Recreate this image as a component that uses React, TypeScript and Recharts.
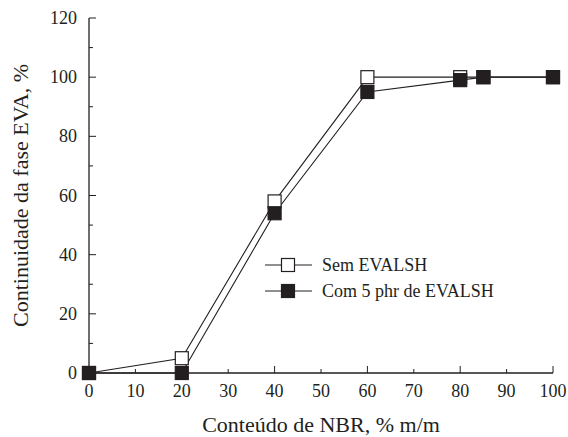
import { LineChart, Line, XAxis, YAxis } from "recharts";

const nbr = [0, 20, 40, 60, 80, 85, 100];
const semEvalsh = [0, 5, 58, 100, 100, 100, 100];
const com5phr = [0, 0, 54, 95, 99, 100, 100];
const xTicks = [0, 10, 20, 30, 40, 50, 60, 70, 80, 90, 100];
const yTicks = [0, 10, 20, 30, 40, 50, 60, 70, 80, 90, 100, 110, 120];
const seriesNames = ["Sem EVALSH", "Com 5 phr de EVALSH"];

const data = nbr.map((x, i) => ({ x, sem: semEvalsh[i], com: com5phr[i] }));

const FONT = "Liberation Serif, Times New Roman, DejaVu Serif, serif";
const INK = "#231f20";

function Square(props: any) {
  const { cx, cy, filled } = props;
  if (cx == null || cy == null) return null;
  const s = 13;
  return (
    <rect x={cx - s / 2} y={cy - s / 2} width={s} height={s}
      fill={filled ? INK : "#fff"} stroke={INK} strokeWidth={1.2} />
  );
}

function XTick(props: any) {
  const { x, y, payload } = props;
  const major = payload.value % 20 === 0;
  const axisY = y - 10;
  return (
    <g>
      <line x1={x} x2={x} y1={axisY} y2={axisY - (major ? 7 : 4)} stroke={INK} strokeWidth={1} />
      <text x={x} y={y + 14} textAnchor="middle" fontSize={18} style={{ fontFamily: FONT }} fill={INK}>
        {payload.value}
      </text>
    </g>
  );
}

function YTick(props: any) {
  const { x, y, payload } = props;
  const major = payload.value % 20 === 0;
  const axisX = x + 10;
  return (
    <g>
      <line x1={axisX} x2={axisX + (major ? 7 : 4)} y1={y} y2={y} stroke={INK} strokeWidth={1} />
      {major && (
        <text x={x - 2} y={y + 6} textAnchor="end" fontSize={18} style={{ fontFamily: FONT }} fill={INK}>
          {payload.value}
        </text>
      )}
    </g>
  );
}

function LegendBox() {
  return (
    <svg width={260} height={60} style={{ position: "absolute", left: 265, top: 255, overflow: "visible" }}>
      {seriesNames.map((name, i) => (
        <g key={name} transform={`translate(0, ${10 + i * 26})`}>
          <line x1={0} x2={47} y1={0} y2={0} stroke={INK} strokeWidth={1} />
          <Square cx={23} cy={0} filled={i === 1} />
          <text x={57} y={6} fontSize={18} style={{ fontFamily: FONT }} fill={INK}>{name}</text>
        </g>
      ))}
    </svg>
  );
}

export default function App() {
  return (
    <div style={{ position: "absolute", left: 0, top: 0, width: 568, height: 437, background: "#fff", fontFamily: FONT }}>
      <LineChart width={568} height={437} data={data}
        margin={{ top: 18, right: 15, bottom: 14, left: 39 }}>
        <XAxis dataKey="x" type="number" domain={[0, 100]} ticks={xTicks}
          interval={0} tickLine={false} tickSize={0} tickMargin={10}
          axisLine={{ stroke: INK, strokeWidth: 1.3 }} tick={<XTick />} height={50}
          label={{ value: "Conteúdo de NBR, % m/m", position: "insideBottom", offset: -9,
            style: { fontSize: 22, fontFamily: FONT, fill: INK } }} />
        <XAxis xAxisId="top" orientation="top" dataKey="x" type="number" domain={[0, 100]}
          tick={false} tickLine={false} height={0} axisLine={{ stroke: INK, strokeWidth: 1.3 }} />
        <YAxis type="number" domain={[0, 120]} ticks={yTicks} interval={0}
          tickLine={false} tickSize={0} tickMargin={10} width={50}
          axisLine={{ stroke: INK, strokeWidth: 1.3 }} tick={<YTick />}
          label={{ value: "Continuidade da fase EVA, %", angle: -90, position: "insideLeft",
            offset: -19, style: { textAnchor: "middle", fontSize: 22, fontFamily: FONT, fill: INK } }} />
        <YAxis yAxisId="right" orientation="right" domain={[0, 120]} tick={false}
          tickLine={false} width={0} axisLine={{ stroke: INK, strokeWidth: 1.3 }} />
        <Line dataKey="sem" stroke={INK} strokeWidth={1.1} isAnimationActive={false}
          dot={<Square filled={false} />} activeDot={false} />
        <Line dataKey="com" stroke={INK} strokeWidth={1.1} isAnimationActive={false}
          dot={<Square filled={true} />} activeDot={false} />
      </LineChart>
      <LegendBox />
    </div>
  );
}
